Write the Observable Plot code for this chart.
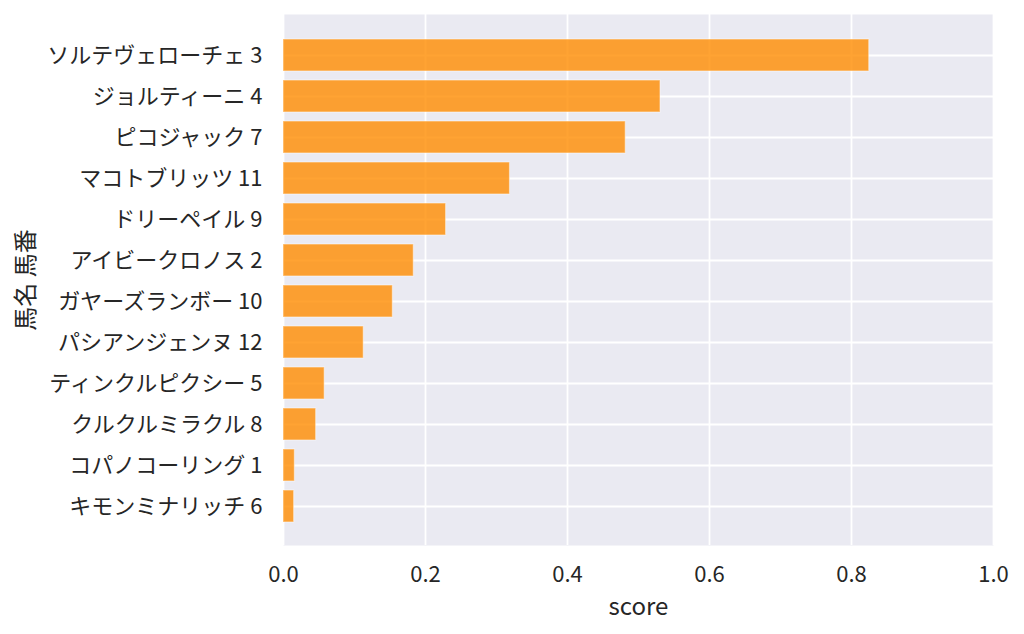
<!DOCTYPE html>
<html>
<head>
<meta charset="utf-8">
<script src="https://cdn.jsdelivr.net/npm/d3@7"></script>
<script src="https://cdn.jsdelivr.net/npm/@observablehq/plot@0.6"></script>
<style>
  html, body { margin: 0; padding: 0; background: #ffffff; }
  #chart { width: 1024px; height: 634px; }
</style>
</head>
<body>
<div id="chart"></div>
<script>
const horseNames = ["ソルテヴェローチェ", "ジョルティーニ", "ピコジャック", "マコトブリッツ", "ドリーペイル", "アイビークロノス", "ガヤーズランボー", "パシアンジェンヌ", "ティンクルピクシー", "クルクルミラクル", "コパノコーリング", "キモンミナリッチ"];
const horseNumbers = [3, 4, 7, 11, 9, 2, 10, 12, 5, 8, 1, 6];
const scores = [0.825, 0.531, 0.482, 0.319, 0.229, 0.1835, 0.154, 0.113, 0.058, 0.046, 0.016, 0.015];
const xTicks = [0, 0.2, 0.4, 0.6, 0.8, 1.0];

const labels = horseNames.map((n, i) => `${n} ${horseNumbers[i]}`);
const data = labels.map((label, i) => ({label, score: scores[i]}));

const font = "'Noto Sans CJK JP', 'Noto Sans', sans-serif";

const chart = Plot.plot({
  width: 1024,
  height: 634,
  marginLeft: 283,
  marginRight: 31,
  marginTop: 14,
  marginBottom: 89,
  style: {fontFamily: font, background: "#ffffff", color: "#262626"},
  x: {domain: [0, 1], ticks: xTicks, tickFormat: d3.format(".1f")},
  y: {domain: labels, range: [34.5, 526.5], paddingInner: 0.22, paddingOuter: 0.11},
  marks: [
    Plot.frame({fill: "#EAEAF2", stroke: null}),
    Plot.gridX({ticks: xTicks, stroke: "#ffffff", strokeOpacity: 1, strokeWidth: 1.8}),
    Plot.gridY({stroke: "#ffffff", strokeOpacity: 1, strokeWidth: 1.8}),
    Plot.barX(data, {x: "score", y: "label", fill: "darkorange", fillOpacity: 0.8, stroke: "#ffffff", strokeOpacity: 0.45, strokeWidth: 1.2}),
    Plot.axisX({ticks: xTicks, tickFormat: d3.format(".1f"), tickSize: 0, tickPadding: 21, fontSize: 22, label: "score", labelAnchor: "center", labelArrow: "none", labelOffset: 69}),
    Plot.axisY({tickSize: 0, tickPadding: 21, fontSize: 22, label: "馬名 馬番", labelAnchor: "center", labelArrow: "none", labelOffset: 267})
  ]
});

// enlarge axis label font
chart.querySelectorAll("[aria-label='x-axis label'], [aria-label='y-axis label']").forEach(g => g.setAttribute("font-size", "24"));
document.getElementById("chart").appendChild(chart);
</script>
</body>
</html>
